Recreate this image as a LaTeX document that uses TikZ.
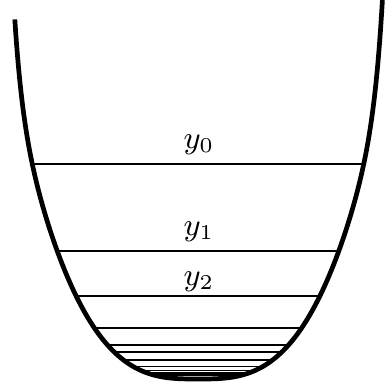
\documentclass[tikz,border=0pt]{standalone}
\usepackage{tikz}
\tikzset{
  bowl/.style={line width=1.34pt,draw=black,line join=round},
  iterate/.style={line width=0.45pt,draw=black},
  lbl/.style={font=\fontsize{9}{11}\selectfont,anchor=base,inner sep=0pt},
}
\begin{document}
\begin{tikzpicture}[x=0.01cm,y=0.01cm]
  \useasboundingbox (0,0) rectangle (385,389);
  % iterates, half width taken from the cubic wall
  \foreach \h in {215,128,83,51,34,27,19,12.5,8.5,6,4}{
    \pgfmathsetmacro{\w}{27.94*pow(\h,1/3)}
    \draw[iterate] (198-\w,10+\h) -- (198+\w,10+\h);
  }
  % the bowl: cubic wall, steepening near the top
  \draw[bowl] plot[domain=-183.2:184.4,samples=401]
    ({198+\x},{10+pow(abs(\x)/27.94,3)+50*pow(abs(\x)/180,25)});
  \node[lbl] (y0) at (199,240) {$y_0$};
  \node[lbl] (y1) at (199,153.5) {$y_1$};
  \node[lbl] (y2) at (199,103.5) {$y_2$};
\end{tikzpicture}
\end{document}
